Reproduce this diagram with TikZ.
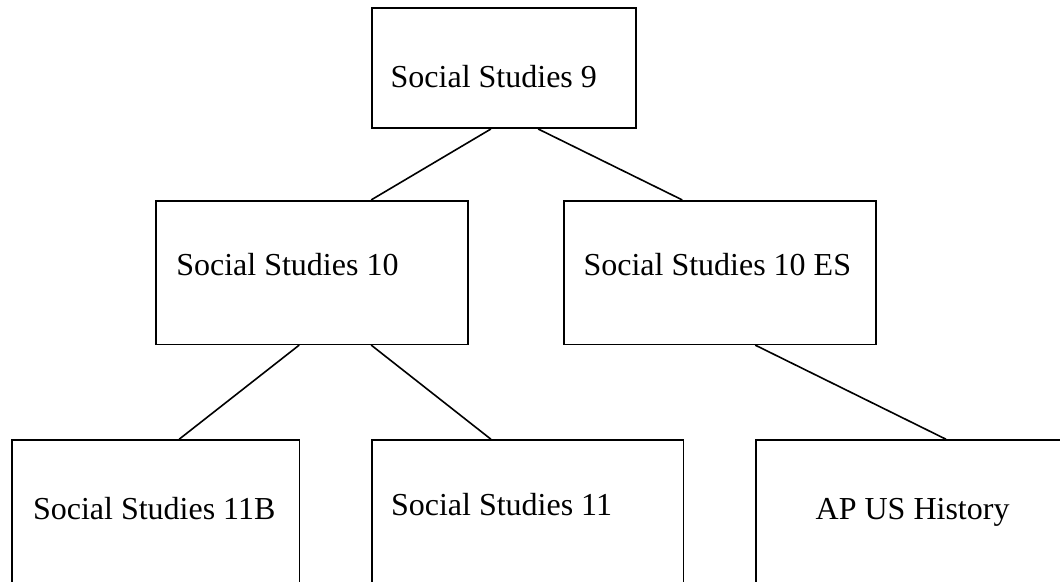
\documentclass[tikz,border=0pt]{standalone}
\usepackage{fontspec}
\setmainfont{Liberation Serif}
\begin{document}
\begin{tikzpicture}[x=1pt,y=-1pt,
  box/.style={draw=black, line width=1.6pt, rectangle, inner sep=0pt, fill=none},
  txt/.style={anchor=base west, inner sep=0pt, font=\fontsize{32}{38}\selectfont},
  link/.style={draw=black, line width=1.6pt}]
\useasboundingbox (0,0) rectangle (1060,581);
\clip (0,0) rectangle (1060,581);
\fill[white] (0,0) rectangle (1060,581);

% course boxes
\node[box, minimum width=264pt, minimum height=120pt]   (ss9)   at (504,68.2)   {};
\node[box, minimum width=312.3pt, minimum height=143.6pt] (ss10)  at (311.85,272.5) {};
\node[box, minimum width=312pt, minimum height=143.6pt] (ss10es) at (720,272.5) {};
\node[box, minimum width=287.6pt, minimum height=144pt] (ss11b) at (155.5,512) {};
\node[box, minimum width=311.6pt, minimum height=144pt] (ss11)  at (527.5,512) {};
\node[box, minimum width=312pt, minimum height=144pt]   (apus)  at (911.7,512) {};

% course titles
\node[txt] (t9)    at (390.5,87.3) {Social Studies 9};
\node[txt] (t10)   at (176.1,275)  {Social Studies 10};
\node[txt] (t10es) at (583.3,275)  {Social Studies 10 ES};
\node[txt] (t11b)  at (32.8,519)   {Social Studies 11B};
\node[txt] (t11)   at (390.8,515)  {Social Studies 11};
\node[txt] (tap)   at (815.5,519)  {AP US History};

% prerequisite links
\draw[link] ([xshift=119.7pt]ss9.south west) -- ([xshift=216.3pt]ss10.north west);
\draw[link] ([xshift=167pt]ss9.south west) -- ([xshift=119pt]ss10es.north west);
\draw[link] ([xshift=144.3pt]ss10.south west) -- ([xshift=168.3pt]ss11b.north west);
\draw[link] ([xshift=216.3pt]ss10.south west) -- ([xshift=120pt]ss11.north west);
\draw[link] ([xshift=192pt]ss10es.south west) -- ([xshift=191pt]apus.north west);
\end{tikzpicture}
\end{document}
